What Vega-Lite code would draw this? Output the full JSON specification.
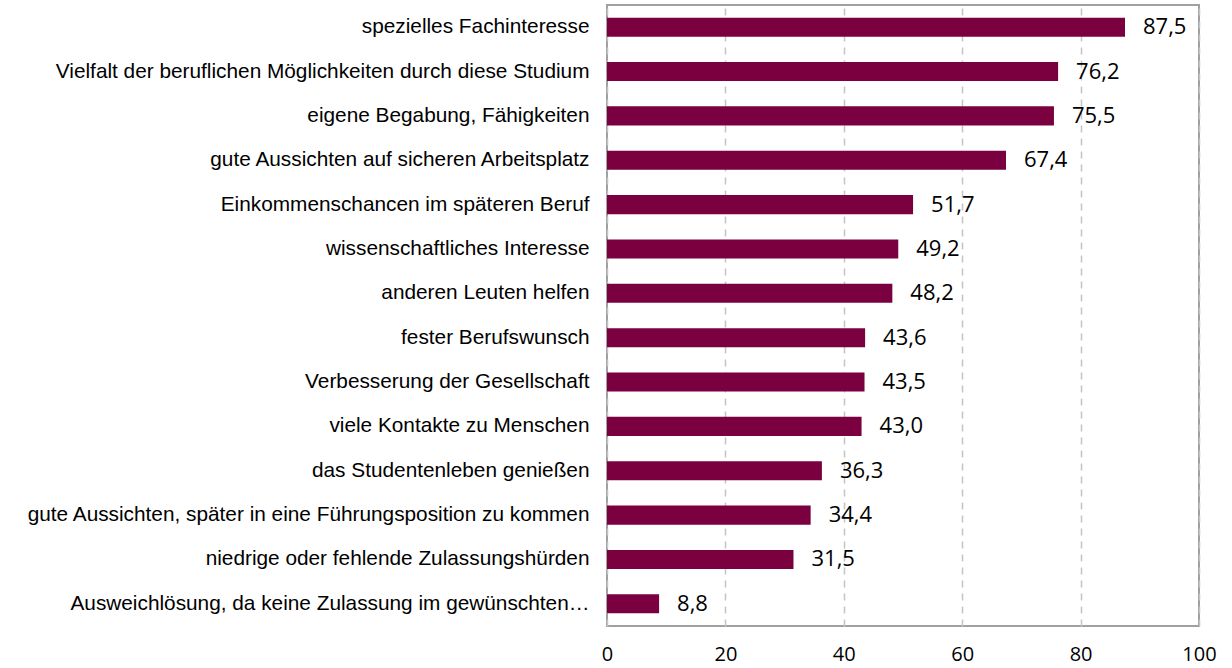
{
  "$schema": "https://vega.github.io/schema/vega-lite/v6.json",
  "autosize": {"type": "none"},
  "padding": {"left": 607, "top": 5, "right": 33, "bottom": 42},
  "width": 592,
  "height": 621,
  "background": "white",
  "config": {
    "view": {"stroke": "#a0a0a0", "strokeWidth": 2},
    "axis": {"domain": false, "ticks": false}
  },
  "data": {
    "values": [
      {"reason": "spezielles Fachinteresse", "value": 87.5, "label": "87,5"},
      {"reason": "Vielfalt der beruflichen Möglichkeiten durch diese Studium", "value": 76.2, "label": "76,2"},
      {"reason": "eigene Begabung, Fähigkeiten", "value": 75.5, "label": "75,5"},
      {"reason": "gute Aussichten auf sicheren Arbeitsplatz", "value": 67.4, "label": "67,4"},
      {"reason": "Einkommenschancen im späteren Beruf", "value": 51.7, "label": "51,7"},
      {"reason": "wissenschaftliches Interesse", "value": 49.2, "label": "49,2"},
      {"reason": "anderen Leuten helfen", "value": 48.2, "label": "48,2"},
      {"reason": "fester Berufswunsch", "value": 43.6, "label": "43,6"},
      {"reason": "Verbesserung der Gesellschaft", "value": 43.5, "label": "43,5"},
      {"reason": "viele Kontakte zu Menschen", "value": 43.0, "label": "43,0"},
      {"reason": "das Studentenleben genießen", "value": 36.3, "label": "36,3"},
      {"reason": "gute Aussichten, später in eine Führungsposition zu kommen", "value": 34.4, "label": "34,4"},
      {"reason": "niedrige oder fehlende Zulassungshürden", "value": 31.5, "label": "31,5"},
      {"reason": "Ausweichlösung, da keine Zulassung im gewünschten…", "value": 8.8, "label": "8,8"}
    ]
  },
  "encoding": {
    "y": {
      "field": "reason", "type": "nominal", "sort": null,
      "scale": {"paddingInner": 0.57, "paddingOuter": 0.285},
      "axis": {"title": null, "labelFont": "Liberation Sans", "labelFontSize": 20.8, "labelColor": "#000000", "labelPadding": 18, "labelLimit": 600}
    }
  },
  "layer": [
    {
      "mark": {"type": "bar", "color": "#7a003f"},
      "encoding": {
        "x": {
          "field": "value", "type": "quantitative",
          "scale": {"domain": [0, 100], "nice": false},
          "axis": {
            "title": null, "values": [0, 20, 40, 60, 80, 100],
            "grid": true, "gridColor": "#c4c4c4", "gridDash": [7, 6], "gridWidth": 1.5,
            "labelFont": "Open Sans", "labelFontSize": 20, "labelColor": "#000000", "labelPadding": 18,
            "labelFlush": false
          }
        }
      }
    },
    {
      "mark": {"type": "text", "align": "left", "dx": 18, "font": "Open Sans", "fontSize": 22, "color": "#000000"},
      "encoding": {
        "x": {"field": "value", "type": "quantitative"},
        "text": {"field": "label"}
      }
    }
  ]
}
